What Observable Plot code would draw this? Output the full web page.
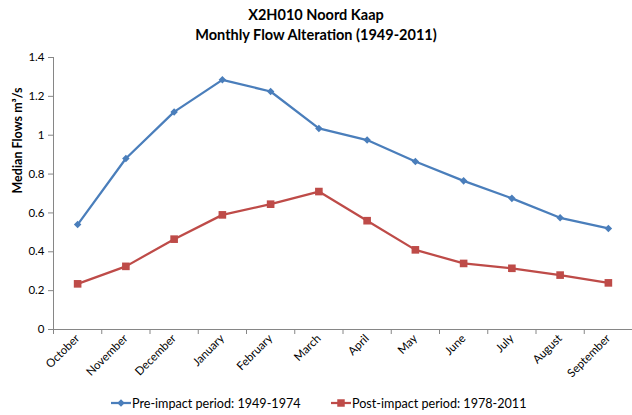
<!DOCTYPE html>
<html><head><meta charset="utf-8">
<script src="https://cdn.jsdelivr.net/npm/d3@7"></script>
<script src="https://cdn.jsdelivr.net/npm/@observablehq/plot@0.6"></script>
<style>
body{margin:0;background:#fff;font-family:Lato,"Open Sans",sans-serif;}
#wrap{position:relative;width:632px;height:415px;overflow:hidden;background:#fff}
#title{position:absolute;left:0;top:5px;width:632px;text-align:center;font-weight:bold;font-size:14.5px;line-height:20px;color:#000}
.leg{position:absolute;top:395px;height:16px;display:flex;align-items:center;font-size:12.6px;color:#000;white-space:nowrap}
.leg svg{margin-right:1px}
</style></head>
<body>
<div id="wrap"><div id="chart"></div><div id="title">X2H010 Noord Kaap<br>Monthly Flow Alteration (1949-2011)</div></div>
<script>
const months = ["October","November","December","January","February","March","April","May","June","July","August","September"];
const preImpact  = [0.54, 0.88, 1.12, 1.285, 1.225, 1.035, 0.975, 0.865, 0.765, 0.675, 0.575, 0.52];
const postImpact = [0.235, 0.325, 0.465, 0.59, 0.645, 0.71, 0.56, 0.41, 0.34, 0.315, 0.28, 0.24];
const seriesNames = ["Pre-impact period: 1949-1974", "Post-impact period: 1978-2011"];
const seriesColors = ["#4a7ebb", "#be4b48"];
const yTicks = [0, 0.2, 0.4, 0.6, 0.8, 1, 1.2, 1.4];
const yLabel = "Median Flows m³/s";

const pre = months.map((m, i) => ({i, month: m, value: preImpact[i], series: seriesNames[0]}));
const post = months.map((m, i) => ({i, month: m, value: postImpact[i], series: seriesNames[1]}));
const idx = months.map((_, i) => i);
const bounds = months.map((_, i) => i - 0.5).concat([months.length - 0.5]);

const chart = Plot.plot({
  width: 632, height: 415,
  marginTop: 57, marginBottom: 86, marginLeft: 53, marginRight: 0,
  style: {fontFamily: "Lato, 'Open Sans', sans-serif", fontSize: "11.5px", color: "#000", background: "transparent"},
  x: {type: "linear", domain: [-0.5, months.length - 0.5]},
  y: {domain: [0, 1.4]},
  color: {domain: seriesNames, range: seriesColors},
  marks: [
    Plot.axisY({ticks: yTicks, tickSize: 5, tickPadding: 4, tickFormat: d3.format("~g"), label: null, stroke: "#868686", fontSize: 11.5}),
    Plot.axisX({ticks: bounds, tickSize: 5, tickFormat: () => "", label: null, stroke: "#868686"}),
    Plot.axisX({ticks: idx, tickSize: 0, tickPadding: 7, tickRotate: -45, tickFormat: i => months[i], label: null, fontSize: 11.5}),
    Plot.ruleX([-0.5], {stroke: "#868686"}),
    Plot.ruleY([0], {stroke: "#868686"}),
    Plot.text([yLabel], {text: d => d, frameAnchor: "left", rotate: -90, dx: -36, fontWeight: "bold", fontSize: 12.5}),
    Plot.line(pre, {x: "i", y: "value", stroke: "series", strokeWidth: 2.25}),
    Plot.line(post, {x: "i", y: "value", stroke: "series", strokeWidth: 2.25}),
    Plot.dot(pre, {x: "i", y: "value", fill: "series", symbol: "diamond2", r: 3.4, stroke: null}),
    Plot.dot(post, {x: "i", y: "value", fill: "series", symbol: "square", r: 4.3, stroke: null})
  ]
});
const wrap = document.getElementById("wrap");
document.getElementById("chart").appendChild(chart);

const legendLeft = [111, 331];
const legendSymbols = [d3.symbolDiamond2, d3.symbolSquare];
const legendSizes = [36, 56];
seriesNames.forEach((name, k) => {
  const div = document.createElement("div");
  div.className = "leg";
  div.style.left = legendLeft[k] + "px";
  const svg = d3.create("svg").attr("width", 20).attr("height", 10);
  svg.append("line").attr("x1", 0).attr("x2", 20).attr("y1", 5).attr("y2", 5)
     .attr("stroke", seriesColors[k]).attr("stroke-width", 2.25);
  svg.append("path").attr("d", d3.symbol(legendSymbols[k], legendSizes[k])())
     .attr("transform", "translate(10,5)").attr("fill", seriesColors[k]);
  div.appendChild(svg.node());
  const span = document.createElement("span");
  span.textContent = name;
  div.appendChild(span);
  wrap.appendChild(div);
});
</script>
</body></html>
